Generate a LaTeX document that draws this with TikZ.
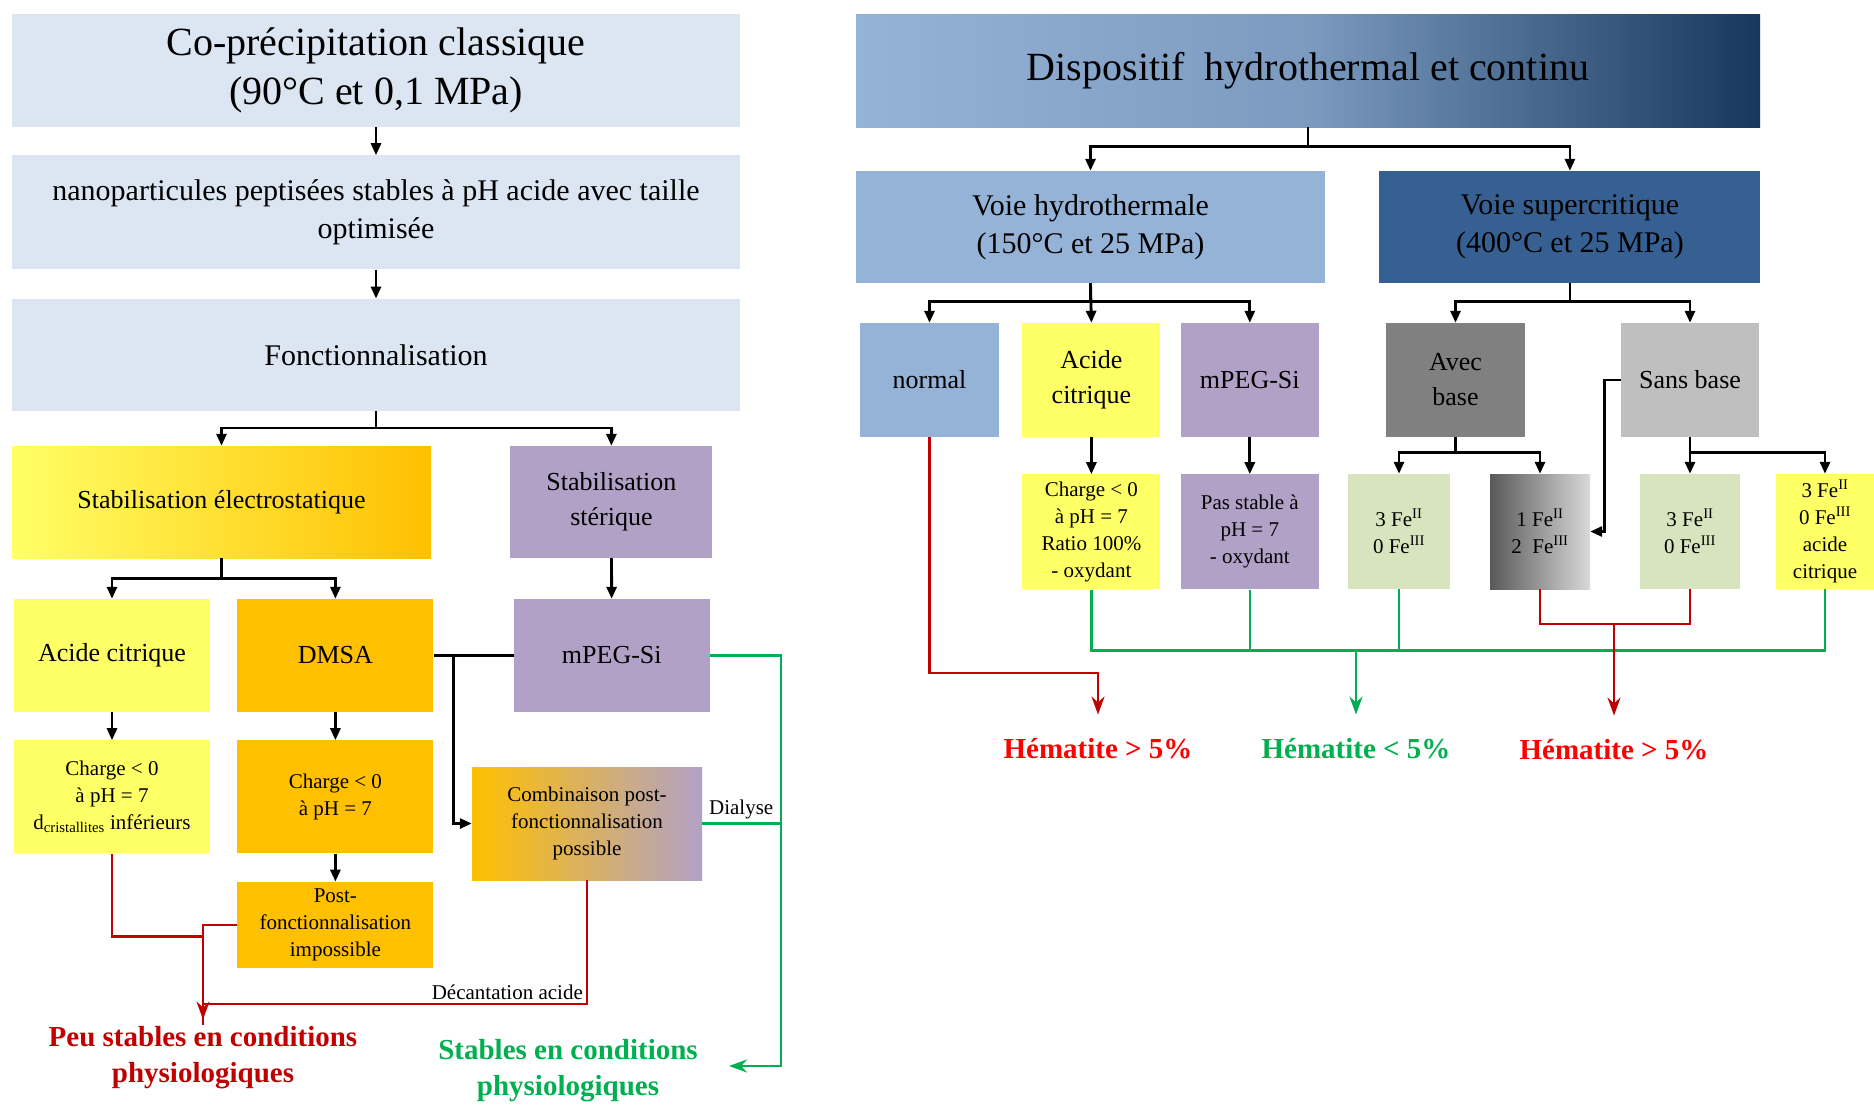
\documentclass[tikz,border=0pt]{standalone}
\usepackage{fontspec}
\setmainfont{Liberation Serif}
\usepackage{tikz}
\usetikzlibrary{positioning,arrows.meta,calc}
\definecolor{bleugris}{HTML}{DCE6F2}
\definecolor{jaune}{HTML}{FFFF66}
\definecolor{orange}{HTML}{FFC000}
\definecolor{violet}{HTML}{B2A1C7}
\definecolor{bleuH}{HTML}{95B3D7}
\definecolor{bleuS}{HTML}{376092}
\definecolor{marine}{HTML}{17375E}
\definecolor{gris}{HTML}{808080}
\definecolor{grisclair}{HTML}{BFBFBF}
\definecolor{grisfonce}{HTML}{595959}
\definecolor{grisblanc}{HTML}{D9D9D9}
\definecolor{vertpale}{HTML}{D7E4BD}
\definecolor{rougetrait}{HTML}{C00000}
\definecolor{rougevif}{HTML}{FF0000}
\definecolor{verttrait}{HTML}{00B050}
\newcommand{\FeOx}[2]{#1 Fe\textsuperscript{#2}}

\begin{document}
\begin{tikzpicture}[x=1pt,y=-1pt,>={Triangle[width=10pt,length=12pt]},
  boite/.style={inner sep=2pt,align=center},
  titre/.style={font=\fontsize{40}{49}\selectfont},
  moyen/.style={font=\fontsize{30}{38}\selectfont},
  court/.style={font=\fontsize{26}{35}\selectfont},
  note/.style={font=\fontsize{21}{27}\selectfont},
  etiq/.style={font=\fontsize{21}{25}\selectfont,inner sep=3pt},
  bilan/.style={font=\fontsize{29}{36}\selectfont\bfseries,inner sep=2pt,align=center},
  noir/.style={line width=2.8pt},
  rouge/.style={draw=rougetrait,line width=2.4pt},
  vert/.style={draw=verttrait,line width=2.4pt},
  fleche/.style={-{Stealth[width=13pt,length=18pt]}}]
  \useasboundingbox (0,0) rectangle (1874,1104);

  \node[boite,titre,fill=bleugris,minimum width=728pt,minimum height=113pt] (CP) at (376,70.5)
    {Co-précipitation classique\\(90°C et 0,1 MPa)};
  \node[boite,moyen,fill=bleugris,minimum width=728pt,minimum height=114pt,below=28pt of CP] (NP)
    {nanoparticules peptisées stables à pH acide avec taille\\optimisée};
  \node[boite,moyen,fill=bleugris,minimum width=728pt,minimum height=112pt,below=29pt of NP] (FO)
    {Fonctionnalisation};
  \node[boite,court,left color=jaune,right color=orange,minimum width=419pt,minimum height=112pt] (SE) at (221.5,502)
    {Stabilisation électrostatique};
  \node[boite,court,fill=violet,minimum width=202pt,minimum height=112pt,right=79pt of SE] (SS)
    {Stabilisation\\stérique};
  \node[boite,court,fill=jaune,minimum width=196pt,minimum height=113pt] (AC) at (112,655.5)
    {Acide citrique};
  \node[boite,court,fill=orange,minimum width=196pt,minimum height=113pt,right=27pt of AC] (DM)
    {DMSA};
  \node[boite,court,fill=violet,minimum width=196pt,minimum height=113pt,right=80pt of DM] (MP)
    {mPEG-Si};
  \node[boite,note,fill=jaune,minimum width=196pt,minimum height=113pt,below=28pt of AC] (CA)
    {Charge < 0\\à pH = 7\\d\textsubscript{cristallites} inférieurs};
  \node[boite,note,fill=orange,minimum width=196pt,minimum height=113pt,below=28pt of DM] (CD)
    {Charge < 0\\à pH = 7};
  \node[boite,note,fill=orange,minimum width=196pt,minimum height=86pt,below=28pt of CD] (PF)
    {Post-\\fonctionnalisation\\impossible};
  \node[boite,note,left color=orange,right color=violet,minimum width=230pt,minimum height=113pt] (CO) at (587,823.5)
    {Combinaison post-\\fonctionnalisation\\possible};
  \node[bilan,text=rougetrait] (PE) at (203,1058) {Peu stables en conditions\\physiologiques};
  \node[bilan,text=verttrait] (ST) at (568,1071) {Stables en conditions\\physiologiques};
  \coordinate (GS) at (729,1066);

  \draw[noir,->] (CP) -- (NP);
  \draw[noir,->] (NP) -- (FO);
  \draw[noir,->] (FO.south) -- ++(0,17) -| (SE.north);
  \draw[noir,->] (FO.south) -- ++(0,17) -| (SS.north);
  \draw[noir,->] (SE.south) -- ++(0,20) -| (AC.north);
  \draw[noir,->] (SE.south) -- ++(0,20) -| (DM.north);
  \draw[noir,->] (SS) -- (MP);
  \draw[noir,->] (AC) -- (CA);
  \draw[noir,->] (DM) -- (CD);
  \draw[noir,->] (CD) -- (PF);
  \draw[noir] (DM) -- (MP);
  \draw[noir,->] ($(DM.east)+(20,0)$) |- (CO.west);

  \draw[rouge] (CA.south) -- ++(0,83) -| (PE.north);
  \draw[rouge] (CO.south) -- ++(0,124) node[etiq,above left]{Décantation acide} -| (PE.north);
  \draw[rouge,fleche,shorten >=5pt] (PF.west) -| (PE.north);
  \draw[vert] (CO.east) -- node[etiq,above]{Dialyse} ++(78,0);
  \draw[vert,fleche] (MP.east) -- ++(71,0) |- (GS);

  \node[boite,titre,left color=bleuH,right color=marine,middle color=bleuH!80!marine,minimum width=904pt,minimum height=113pt] (DI) at (1308,70.5)
    {Dispositif~ hydrothermal et continu};
  \node[boite,moyen,fill=bleuH,minimum width=469pt,minimum height=112pt] (VH) at (1090.5,227)
    {Voie hydrothermale\\(150°C et 25 MPa)};
  \node[boite,moyen,fill=bleuS,minimum width=381pt,minimum height=112pt,right=54pt of VH] (VS)
    {Voie supercritique\\(400°C et 25 MPa)};
  \node[boite,court,fill=bleuH,minimum width=139pt,minimum height=114pt] (NO) at (929.5,380)
    {normal};
  \node[boite,court,fill=jaune,minimum width=138pt,minimum height=114pt,right=23pt of NO] (AR)
    {Acide\\citrique};
  \node[boite,court,fill=violet,minimum width=138pt,minimum height=114pt,right=20pt of AR] (MR)
    {mPEG-Si};
  \node[boite,court,fill=gris,minimum width=139pt,minimum height=114pt] (AV) at (1455.5,380)
    {Avec\\base};
  \node[boite,court,fill=grisclair,minimum width=138pt,minimum height=114pt] (SA) at (1690,380)
    {Sans base};
  \node[boite,note,fill=jaune,minimum width=138pt,minimum height=115pt,below=37pt of AR] (CR)
    {Charge < 0\\à pH = 7\\Ratio 100\%\\- oxydant};
  \node[boite,note,fill=violet,minimum width=138pt,minimum height=115pt,below=37pt of MR] (PS)
    {Pas stable à\\pH = 7\\- oxydant};
  \node[boite,note,fill=vertpale,minimum width=102pt,minimum height=115pt] (FA) at (1399,531.5)
    {\FeOx{3}{II}\\\FeOx{0}{III}};
  \node[boite,note,left color=grisfonce,right color=grisblanc,minimum width=100pt,minimum height=115pt] (FB) at (1540,531.5)
    {\FeOx{1}{II}\\\FeOx{2\ }{III}};
  \node[boite,note,fill=vertpale,minimum width=100pt,minimum height=115pt] (FC) at (1690,531.5)
    {\FeOx{3}{II}\\\FeOx{0}{III}};
  \node[boite,note,fill=jaune,minimum width=98pt,minimum height=115pt] (FD) at (1825,531.5)
    {\FeOx{3}{II}\\\FeOx{0}{III}\\acide\\citrique};
  \node[bilan,text=rougevif] (HA) at (1098,749) {Hématite > 5\%};
  \node[bilan,text=verttrait] (HB) at (1356,749) {Hématite < 5\%};
  \node[bilan,text=rougevif] (HC) at (1614,750) {Hématite > 5\%};

  \draw[noir,->] (DI.south) -- ++(0,19) -| (VH.north);
  \draw[noir,->] (DI.south) -- ++(0,19) -| (VS.north);
  \draw[noir,->] (VH.south) -- ++(0,18) -| (NO.north);
  \draw[noir,->] (VH.south) -- (AR.north);
  \draw[noir,->] (VH.south) -- ++(0,18) -| (MR.north);
  \draw[noir,->] (VS.south) -- ++(0,18) -| (AV.north);
  \draw[noir,->] (VS.south) -- ++(0,18) -| (SA.north);
  \draw[noir,->] (AR) -- (CR);
  \draw[noir,->] (MR) -- (PS);
  \draw[noir,->] (AV.south) -- ++(0,15) -| (FA.north);
  \draw[noir,->] (AV.south) -- ++(0,15) -| (FB.north);
  \draw[noir,->] (SA.south) -- (FC.north);
  \draw[noir,->] (SA.south) -- ++(0,15) -| (FD.north);
  \draw[noir,->] (SA.west) -- ++(-16,0) |- (FB.east);

  \draw[vert] (CR.south) -- ++(0,61) -| (FD.south);
  \draw[vert] (PS.south) -- ++(0,61);
  \draw[vert] (FA.south) -- ++(0,61);
  \draw[vert,fleche,shorten >=22pt] (HB.north |- CR.south) ++(0,61) -- (HB.north);
  \draw[rouge,fleche,shorten >=22pt] (NO.south) -- ++(0,236) -| (HA.north);
  \draw[rouge] (FB.south) -- ++(0,35) -| (FC.south);
  \draw[rouge,fleche,shorten >=22pt] (HC.north |- FB.south) ++(0,35) -- (HC.north);
\end{tikzpicture}
\end{document}
